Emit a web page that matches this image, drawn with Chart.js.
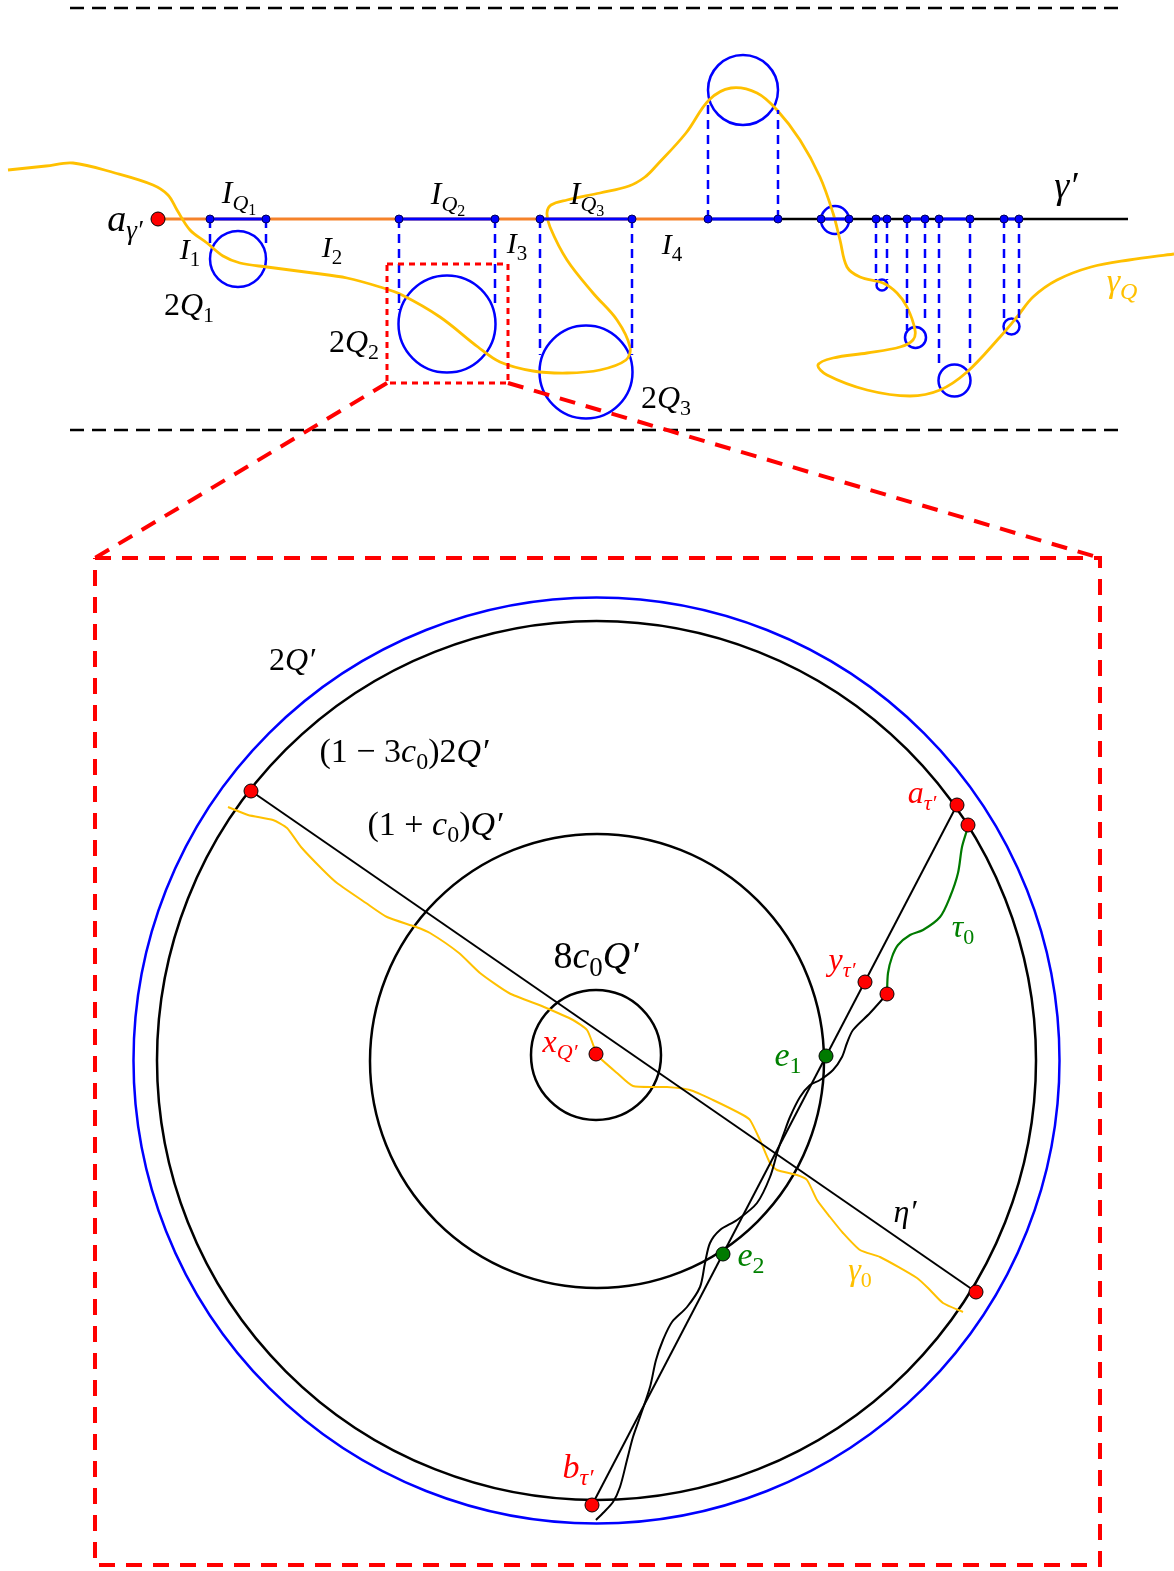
<!DOCTYPE html>
<html>
<head>
<meta charset="utf-8">
<script src="https://cdn.jsdelivr.net/npm/chart.js@4.4.0/dist/chart.umd.min.js"></script>
<style>
html, body { margin: 0; padding: 0; background: #fff; overflow: hidden; }
#wrap { width: 1174px; height: 1571px; }
#fontprobe { position: absolute; left: -9999px; font-family: "Liberation Serif"; font-style: italic; }
</style>
</head>
<body>
<div id="wrap"><canvas id="fig"></canvas></div>
<span id="fontprobe">aQ</span>
<script>
// ---- top panel: the curve gamma' and the squares along it ----
const separatorY = [8, 430];
const separatorX = [70, 1126];
const gammaLine = { y: 219, start: 158, orangeEnd: 707, end: 1128 };

const qIntervals = [[210, 266], [399, 495], [540, 632], [708, 778], [821, 849], [876, 887], [907, 925], [939, 970], [1004, 1019]];
const qDropLeft = [245, 310, 355, 103, null, 280, 330, 365, 323];
const qDropRight = [245, 307, 355, 110, null, 280, 323, 363, 320];

// [cx, cy, r]
const topCircles = [[238, 259, 28], [447, 324, 48.5], [586, 372, 46.5], [743, 90, 35], [835, 220, 14],
    [882, 285, 5.5], [915.5, 337.5, 10.5], [954.5, 380.5, 16], [1011.5, 326.5, 8]];

const gammaQ = [[8, 170], [46, 166], [73, 163], [115, 173], [153, 185], [168, 195], [177, 210], [190, 230], [207, 243],
    [223, 256], [240, 263], [267, 267], [313, 273], [347, 278], [380, 287], [402, 295], [440, 317], [478, 347],
    [500, 362], [533, 371], [567, 373], [600, 370], [626, 360], [630, 347], [617, 320], [593, 293], [567, 260],
    [550, 227], [547, 213], [551, 205], [567, 200], [600, 193], [629, 186], [645, 177], [657, 165], [686, 133],
    [709, 100], [731, 88], [757, 93], [777, 110], [800, 140], [820, 177], [833, 213], [840, 240], [847, 267],
    [860, 277], [883, 283], [897, 293], [907, 307], [915, 330], [913, 340], [900, 347], [867, 353], [833, 358],
    [818, 365], [827, 375], [867, 390], [910, 396], [940, 390], [967, 372], [1000, 337], [1017, 317], [1033, 297],
    [1057, 280], [1091, 267], [1129, 260], [1174, 254]];

const startPoint = [158, 219];
const zoomRect = [[387, 264], [508, 264], [508, 383], [387, 383], [387, 264]];
const zoomLeft = [[387, 383], [95, 558]];
const zoomRight = [[508, 383], [1100, 558]];
const bigRect = [[95, 558], [1100, 558], [1100, 1565], [95, 1565], [95, 558]];

// ---- bottom panel: the zoomed square 2Q' ----
const blueCircle = [596.5, 1060.5, 463];
const blackCircles = [[596.5, 1060.5, 439.5], [597, 1061, 227], [596, 1055, 65]];

const etaLine = [[251, 791], [976, 1292]];
const tauLine = [[957, 805], [592, 1505]];

const gamma0 = [[228, 807], [248, 815], [273, 820], [287, 828], [301, 847], [323, 870], [337, 883], [366, 903],
    [387, 917], [416, 927], [430, 933], [459, 953], [480, 973], [509, 993], [544, 1007], [573, 1020], [587, 1030],
    [594, 1047], [598, 1056], [617, 1073], [633, 1086], [667, 1087], [690, 1090], [713, 1100], [743, 1115],
    [750, 1120], [760, 1140], [770, 1163], [777, 1170], [797, 1175], [807, 1180], [817, 1200], [830, 1217],
    [843, 1233], [860, 1250], [880, 1257], [917, 1278], [930, 1290], [943, 1303], [963, 1312]];

const tau0 = [[967, 830], [962, 847], [958, 873], [950, 897], [940, 917], [923, 930], [910, 935], [898, 945],
    [892, 957], [888, 973], [887, 994]];

const wiggle = [[887, 994], [870, 1013], [853, 1030], [847, 1043], [842, 1057], [833, 1070], [820, 1080],
    [810, 1085], [800, 1097], [790, 1117], [784, 1133], [778, 1150], [770, 1177], [757, 1203], [737, 1220],
    [720, 1230], [710, 1243], [705, 1263], [700, 1287], [687, 1307], [672, 1322], [663, 1340], [656, 1360],
    [650, 1387], [640, 1417], [633, 1437], [627, 1460], [620, 1487], [613, 1502], [603, 1513], [596, 1520]];

const redPoints = [[251, 791], [596, 1054], [957, 805], [968, 825], [865, 982], [887, 994], [976, 1292], [592, 1505]];
const greenPoints = [[826, 1056], [723, 1254]];

// labels: [text, style]  style: i italic, r roman, 1 = subscript, 2 = second subscript
const labels = [
    { x: 125, y: 231, size: 38, color: '#000', parts: [['a', 'i'], ['γ′', 'i1']] },
    { x: 239, y: 203, size: 32, color: '#000', parts: [['I', 'i'], ['Q', 'i1'], ['1', 'r2']] },
    { x: 448, y: 204, size: 32, color: '#000', parts: [['I', 'i'], ['Q', 'i1'], ['2', 'r2']] },
    { x: 587, y: 204, size: 32, color: '#000', parts: [['I', 'i'], ['Q', 'i1'], ['3', 'r2']] },
    { x: 190, y: 259, size: 30, color: '#000', parts: [['I', 'i'], ['1', 'r1']] },
    { x: 332, y: 257, size: 30, color: '#000', parts: [['I', 'i'], ['2', 'r1']] },
    { x: 517, y: 253, size: 30, color: '#000', parts: [['I', 'i'], ['3', 'r1']] },
    { x: 672, y: 254, size: 30, color: '#000', parts: [['I', 'i'], ['4', 'r1']] },
    { x: 189, y: 315, size: 32, color: '#000', parts: [['2', 'r'], ['Q', 'i'], ['1', 'r1']] },
    { x: 354, y: 352, size: 32, color: '#000', parts: [['2', 'r'], ['Q', 'i'], ['2', 'r1']] },
    { x: 666, y: 408, size: 32, color: '#000', parts: [['2', 'r'], ['Q', 'i'], ['3', 'r1']] },
    { x: 1066, y: 198, size: 38, color: '#000', parts: [['γ′', 'i']] },
    { x: 1122, y: 292, size: 34, color: '#ffc000', parts: [['γ', 'i'], ['Q', 'i1']] },
    { x: 292, y: 670, size: 32, color: '#000', parts: [['2', 'r'], ['Q′', 'i']] },
    { x: 404, y: 762, size: 34, color: '#000', parts: [['(1 − 3', 'r'], ['c', 'i'], ['0', 'r1'], [')2', 'r'], ['Q′', 'i']] },
    { x: 435, y: 835, size: 34, color: '#000', parts: [['(1 + ', 'r'], ['c', 'i'], ['0', 'r1'], [')', 'r'], ['Q′', 'i']] },
    { x: 596, y: 968, size: 38, color: '#000', parts: [['8', 'r'], ['c', 'i'], ['0', 'r1'], ['Q′', 'i']] },
    { x: 560, y: 1052, size: 32, color: '#ff0000', parts: [['x', 'i'], ['Q′', 'i1']] },
    { x: 922, y: 803, size: 32, color: '#ff0000', parts: [['a', 'i'], ['τ′', 'i1']] },
    { x: 842, y: 970, size: 32, color: '#ff0000', parts: [['y', 'i'], ['τ′', 'i1']] },
    { x: 963, y: 937, size: 32, color: '#008000', parts: [['τ', 'i'], ['0', 'r1']] },
    { x: 788, y: 1066, size: 34, color: '#008000', parts: [['e', 'i'], ['1', 'r1']] },
    { x: 751, y: 1266, size: 34, color: '#008000', parts: [['e', 'i'], ['2', 'r1']] },
    { x: 905, y: 1222, size: 32, color: '#000', parts: [['η′', 'i']] },
    { x: 860, y: 1280, size: 32, color: '#ffc000', parts: [['γ', 'i'], ['0', 'r1']] },
    { x: 578, y: 1478, size: 34, color: '#ff0000', parts: [['b', 'i'], ['τ′', 'i1']] }
];

const BLUE = '#0000ff';
const ORANGE = '#f5822a';
const YELLOW = '#ffc000';
const RED = '#ff0000';
const GREEN = '#007a00';

function pts(list) {
    return list.map(p => ({ x: p[0], y: p[1] }));
}

function line(list, color, width, dash, tension) {
    return {
        data: pts(list),
        showLine: true,
        borderColor: color,
        borderWidth: width,
        borderDash: dash || [],
        tension: tension || 0,
        pointRadius: 0,
        fill: false,
        clip: false
    };
}

function dots(list, color, r, edge) {
    return {
        data: pts(list),
        showLine: false,
        pointRadius: r,
        pointBackgroundColor: color,
        pointBorderColor: edge,
        pointBorderWidth: 1,
        clip: false
    };
}

const datasets = [];

// separators
separatorY.forEach(y => datasets.push(line([[separatorX[0], y], [separatorX[1], y]], '#000', 2.5, [14, 8])));

// gamma'
datasets.push(line([[gammaLine.start, gammaLine.y], [gammaLine.orangeEnd, gammaLine.y]], ORANGE, 3));
datasets.push(line([[gammaLine.orangeEnd, gammaLine.y], [gammaLine.end, gammaLine.y]], '#000', 2.5));

// yellow gamma_Q
datasets.push(line(gammaQ, YELLOW, 2.8, [], 0.35));

// intervals and dashed drops
qIntervals.forEach((iv, i) => {
    datasets.push(line([[iv[0], gammaLine.y], [iv[1], gammaLine.y]], BLUE, 3));
    if (qDropLeft[i] !== null) {
        datasets.push(line([[iv[0], gammaLine.y], [iv[0], qDropLeft[i]]], BLUE, 2.5, [9, 6]));
        datasets.push(line([[iv[1], gammaLine.y], [iv[1], qDropRight[i]]], BLUE, 2.5, [9, 6]));
    }
});

// zoom frame
datasets.push(line(zoomRect, RED, 3, [6, 5]));
datasets.push(line(zoomLeft, RED, 4, [16, 11]));
datasets.push(line(zoomRight, RED, 4, [16, 11]));
datasets.push(line(bigRect, RED, 4, [16, 11]));

// bottom panel curves
datasets.push(line(gamma0, YELLOW, 2, [], 0.2));
datasets.push(line(etaLine, '#000', 2));
datasets.push(line(tauLine, '#000', 2));
datasets.push(line(wiggle, '#000', 2, [], 0.3));
datasets.push(line(tau0, GREEN, 2.2, [], 0.3));

// points
const endPts = [];
qIntervals.forEach(iv => { endPts.push([iv[0], gammaLine.y]); endPts.push([iv[1], gammaLine.y]); });
datasets.push(dots(endPts, BLUE, 4, '#00005a'));
datasets.push(dots([startPoint], RED, 7, '#000'));
datasets.push(dots(redPoints, RED, 7, '#000'));
datasets.push(dots(greenPoints, GREEN, 7, '#000'));

datasets.forEach((d, i) => { d.order = datasets.length - i; });

function circle(ctx, xs, ys, c, color, width) {
    const px = xs.getPixelForValue(c[0]);
    const py = ys.getPixelForValue(c[1]);
    const r = xs.getPixelForValue(c[0] + c[2]) - px;
    ctx.beginPath();
    ctx.arc(px, py, r, 0, Math.PI * 2);
    ctx.strokeStyle = color;
    ctx.lineWidth = width;
    ctx.stroke();
}

const circlePlugin = {
    id: 'circles',
    beforeDatasetsDraw(chart) {
        const ctx = chart.ctx;
        const xs = chart.scales.x, ys = chart.scales.y;
        ctx.save();
        topCircles.forEach(c => circle(ctx, xs, ys, c, BLUE, 2.5));
        circle(ctx, xs, ys, blueCircle, BLUE, 2.5);
        blackCircles.forEach(c => circle(ctx, xs, ys, c, '#000', 2.5));
        ctx.restore();
    }
};

function partFont(style, size) {
    let s = size;
    if (style.endsWith('1')) s = size * 0.7;
    if (style.endsWith('2')) s = size * 0.5;
    const italic = style.startsWith('i') ? 'italic ' : '';
    return italic + Math.round(s) + 'px "Liberation Serif"';
}

const labelPlugin = {
    id: 'labels',
    afterDatasetsDraw(chart) {
        const ctx = chart.ctx;
        const xs = chart.scales.x, ys = chart.scales.y;
        ctx.save();
        ctx.textBaseline = 'alphabetic';
        ctx.textAlign = 'left';
        labels.forEach(lb => {
            let total = 0;
            lb.parts.forEach(p => {
                ctx.font = partFont(p[1], lb.size);
                total += ctx.measureText(p[0]).width;
            });
            let x = xs.getPixelForValue(lb.x) - total / 2;
            const y = ys.getPixelForValue(lb.y);
            ctx.fillStyle = lb.color;
            lb.parts.forEach(p => {
                ctx.font = partFont(p[1], lb.size);
                let dy = 0;
                if (p[1].endsWith('1')) dy = lb.size * 0.22;
                if (p[1].endsWith('2')) dy = lb.size * 0.36;
                ctx.fillText(p[0], x, y + dy);
                x += ctx.measureText(p[0]).width;
            });
        });
        ctx.restore();
    }
};

new Chart(document.getElementById('fig').getContext('2d'), {
    type: 'scatter',
    data: { datasets: datasets },
    options: {
        responsive: true,
        maintainAspectRatio: false,
        animation: false,
        events: [],
        layout: { padding: 0, autoPadding: false },
        plugins: { legend: { display: false }, tooltip: { enabled: false } },
        scales: {
            x: { type: 'linear', min: 0, max: 1174, display: false },
            y: { type: 'linear', min: 0, max: 1571, reverse: true, display: false }
        }
    },
    plugins: [circlePlugin, labelPlugin]
});
</script>
</body>
</html>
